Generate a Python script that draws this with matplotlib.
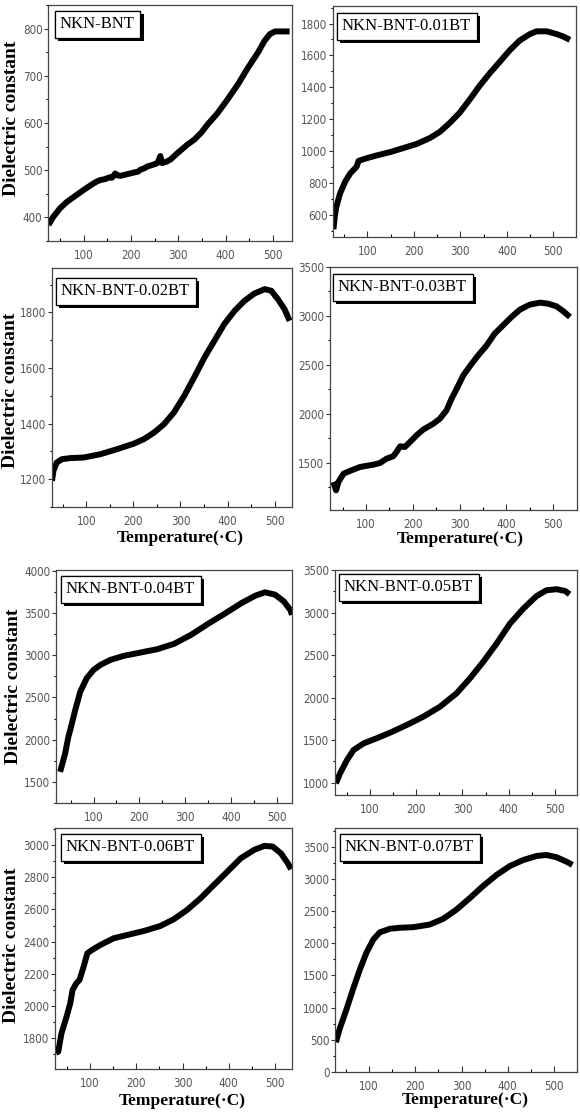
import numpy as np
import matplotlib
matplotlib.use("Agg")
import matplotlib.pyplot as plt
import matplotlib.patheffects as pe
from matplotlib import font_manager as fm
from matplotlib.ticker import MultipleLocator, FixedLocator

W, H = 580, 1113

# ---- data (temperature in C, dielectric constant) ----
labels = ["NKN-BNT", "NKN-BNT-0.01BT", "NKN-BNT-0.02BT", "NKN-BNT-0.03BT",
          "NKN-BNT-0.04BT", "NKN-BNT-0.05BT", "NKN-BNT-0.06BT", "NKN-BNT-0.07BT"]

t0 = [26, 36, 50, 65, 86, 100, 121, 128, 135, 145, 155, 160, 167, 172, 178, 190, 206, 215, 220,
      228, 235, 245, 256, 259, 262, 266, 275, 284, 298, 319, 334, 348, 362, 383, 404, 426, 447,
      468, 482, 493, 504, 514, 535]
e0 = [384, 401, 419, 433, 448, 458, 472, 476, 479, 481, 485, 484, 493, 489, 488, 491, 495, 497, 501,
      504, 508, 511, 515, 522, 530, 515, 518, 523, 536, 554, 565, 579, 597, 621, 650, 682, 717,
      749, 774, 788, 794, 794, 794]

t1 = [27, 30, 33, 41, 52, 63, 77, 81, 99, 120, 149, 177, 206, 235, 256, 278, 299, 321, 342, 364,
      385, 407, 428, 450, 464, 486, 507, 521, 536]
e1 = [509, 594, 647, 732, 806, 859, 902, 938, 955, 972, 993, 1018, 1044, 1082, 1120, 1178, 1241,
      1326, 1411, 1490, 1560, 1634, 1694, 1734, 1751, 1751, 1734, 1719, 1698]

t2 = [27, 30, 37, 48, 66, 94, 130, 165, 201, 222, 244, 265, 286, 308, 329, 351, 372, 393, 415,
      436, 457, 479, 493, 507, 521, 532]
e2 = [1194, 1230, 1260, 1272, 1276, 1278, 1290, 1308, 1328, 1344, 1368, 1398, 1440, 1500, 1566,
      1638, 1698, 1758, 1806, 1842, 1868, 1884, 1878, 1848, 1812, 1770]

t3 = [30, 36, 41, 52, 69, 87, 116, 130, 144, 158, 165, 173, 183, 194, 208, 222, 244, 258, 272,
      283, 294, 308, 326, 340, 358, 375, 393, 411, 429, 450, 472, 489, 507, 521, 536]
e3 = [1306, 1221, 1306, 1391, 1425, 1459, 1483, 1500, 1544, 1568, 1612, 1670, 1663, 1714, 1782,
      1840, 1901, 1952, 2037, 2157, 2259, 2395, 2514, 2599, 2701, 2820, 2905, 2990, 3065, 3116,
      3136, 3126, 3099, 3051, 2990]

t4 = [27, 38, 45, 49, 60, 71, 85, 100, 115, 137, 166, 203, 239, 276, 313, 350, 386, 423, 453,
      474, 496, 515, 529, 533]
e4 = [1619, 1837, 2035, 2114, 2352, 2569, 2728, 2827, 2886, 2946, 2993, 3033, 3072, 3136, 3243,
      3373, 3492, 3619, 3706, 3746, 3718, 3639, 3540, 3480]

t5 = [26, 35, 50, 64, 86, 114, 143, 179, 215, 251, 287, 316, 345, 374, 403, 432, 460, 482, 504,
      522, 532]
e5 = [992, 1110, 1266, 1383, 1462, 1521, 1587, 1677, 1775, 1892, 2049, 2225, 2421, 2636, 2871,
      3047, 3192, 3262, 3274, 3254, 3215]

t6 = [26, 31, 38, 49, 57, 62, 70, 77, 86, 94, 104, 122, 151, 180, 216, 252, 281, 310, 339, 368,
      397, 426, 455, 477, 495, 513, 528, 535]
e6 = [1711, 1717, 1831, 1934, 2017, 2100, 2141, 2162, 2245, 2328, 2348, 2379, 2421, 2441, 2466,
      2497, 2539, 2597, 2669, 2752, 2834, 2917, 2969, 2994, 2990, 2948, 2886, 2849]

t7 = [28, 36, 51, 65, 80, 94, 109, 123, 145, 166, 195, 231, 260, 289, 318, 347, 376, 405, 434,
      463, 484, 506, 527, 540]
e7 = [462, 668, 977, 1286, 1595, 1852, 2058, 2170, 2225, 2240, 2249, 2290, 2378, 2522, 2702,
      2892, 3062, 3201, 3294, 3356, 3371, 3335, 3268, 3217]

temps = [t0, t1, t2, t3, t4, t5, t6, t7]
eps = [e0, e1, e2, e3, e4, e5, e6, e7]

xlims = [(25, 540), (26, 549), (27, 537), (23, 551), (18, 533), (24, 548), (24, 537), (26, 550)]
ylims = [(350, 850), (460, 1910), (1100, 1960), (1020, 3500),
         (1250, 4010), (855, 3500), (1610, 3105), (0, 3790)]
ysteps = [100, 200, 200, 500, 500, 500, 200, 500]

# axes boxes in pixels: left, right, top, bottom
boxes = [(48, 292, 5, 241), (333, 576, 6, 237),
         (52, 292, 268, 507), (330, 577, 267, 510),
         (56, 292, 570, 803), (335, 577, 570, 795),
         (55, 292, 828, 1069), (335, 577, 828, 1072)]
tag_off = [(6, 5), (3, 6), (3, 9), (2, 6), (4, 5), (3, 3), (5, 5), (4, 5)]

# a narrow sans for the tick numbers if one is installed
narrow_files = [f.fname for f in fm.fontManager.ttflist
                if ("Narrow" in f.name or f.stretch in ("condensed", "semi-condensed"))
                and "Sans" in f.name and f.style == "normal"
                and f.weight in (400, "normal", "regular", "book")]
if narrow_files:
    tick_fp = fm.FontProperties(fname=sorted(narrow_files)[0], size=8.3)
else:
    tick_fp = fm.FontProperties(family="Liberation Sans", size=7.5)

serif = ["Liberation Serif", "DejaVu Serif"]

fig = plt.figure(figsize=(W / 100, H / 100), dpi=100)

for i in range(8):
    l, r, t, b = boxes[i]
    ax = fig.add_axes([l / W, 1 - b / H, (r - l) / W, (b - t) / H])
    ax.plot(temps[i], eps[i], color="black", lw=4.3, solid_joinstyle="round",
            solid_capstyle="butt")
    ax.set_xlim(*xlims[i])
    ax.set_ylim(*ylims[i])
    ylo, yhi = ylims[i]
    st = ysteps[i]
    ax.xaxis.set_major_locator(FixedLocator([100, 200, 300, 400, 500]))
    ax.xaxis.set_minor_locator(MultipleLocator(50))
    ax.yaxis.set_major_locator(FixedLocator(
        [v for v in np.arange(0, 5000, st) if ylo <= v <= yhi]))
    ax.yaxis.set_minor_locator(MultipleLocator(st / 2))
    ax.tick_params(axis="x", which="major", direction="in", length=4, width=0.8, pad=6)
    ax.tick_params(axis="x", which="minor", direction="in", length=2, width=0.8)
    ax.tick_params(axis="y", which="major", direction="out", length=3, width=0.8, pad=1)
    ax.tick_params(axis="y", which="minor", direction="out", length=1.5, width=0.8)
    ax.tick_params(labelcolor="#555555", colors="#333333")
    for s in ax.spines.values():
        s.set_linewidth(0.9)
        s.set_color("#444444")
    for lab in ax.get_xticklabels() + ax.get_yticklabels():
        lab.set_fontproperties(tick_fp)

    dx, dy = tag_off[i]
    ann = ax.annotate(labels[i], xy=(0, 1), xycoords="axes fraction",
                      xytext=(dx + 6, -(dy + 6)), textcoords="offset pixels",
                      ha="left", va="top", fontsize=12, family=serif, color="black",
                      bbox=dict(boxstyle="square,pad=0.33", fc="white", ec="black", lw=0.9),
                      zorder=5)
    ann.get_bbox_patch().set_path_effects(
        [pe.withSimplePatchShadow(offset=(2.5, -2.5), shadow_rgbFace="black", alpha=1.0),
         pe.Normal()])

# axis titles
for (x, y) in [(12, 118), (11, 390), (14, 686), (12, 945)]:
    fig.text(x / W, 1 - y / H, "Dielectric constant", rotation=90, ha="center", va="center",
             fontsize=14, fontweight="bold", family=serif)
for (x, y) in [(180, 538), (460, 539), (182, 1101), (465, 1100)]:
    fig.text(x / W, 1 - y / H, "Temperature(\u00b7C)", ha="center", va="center",
             fontsize=12.5, fontweight="bold", family=serif)

fig.savefig("out.png", dpi=100)
